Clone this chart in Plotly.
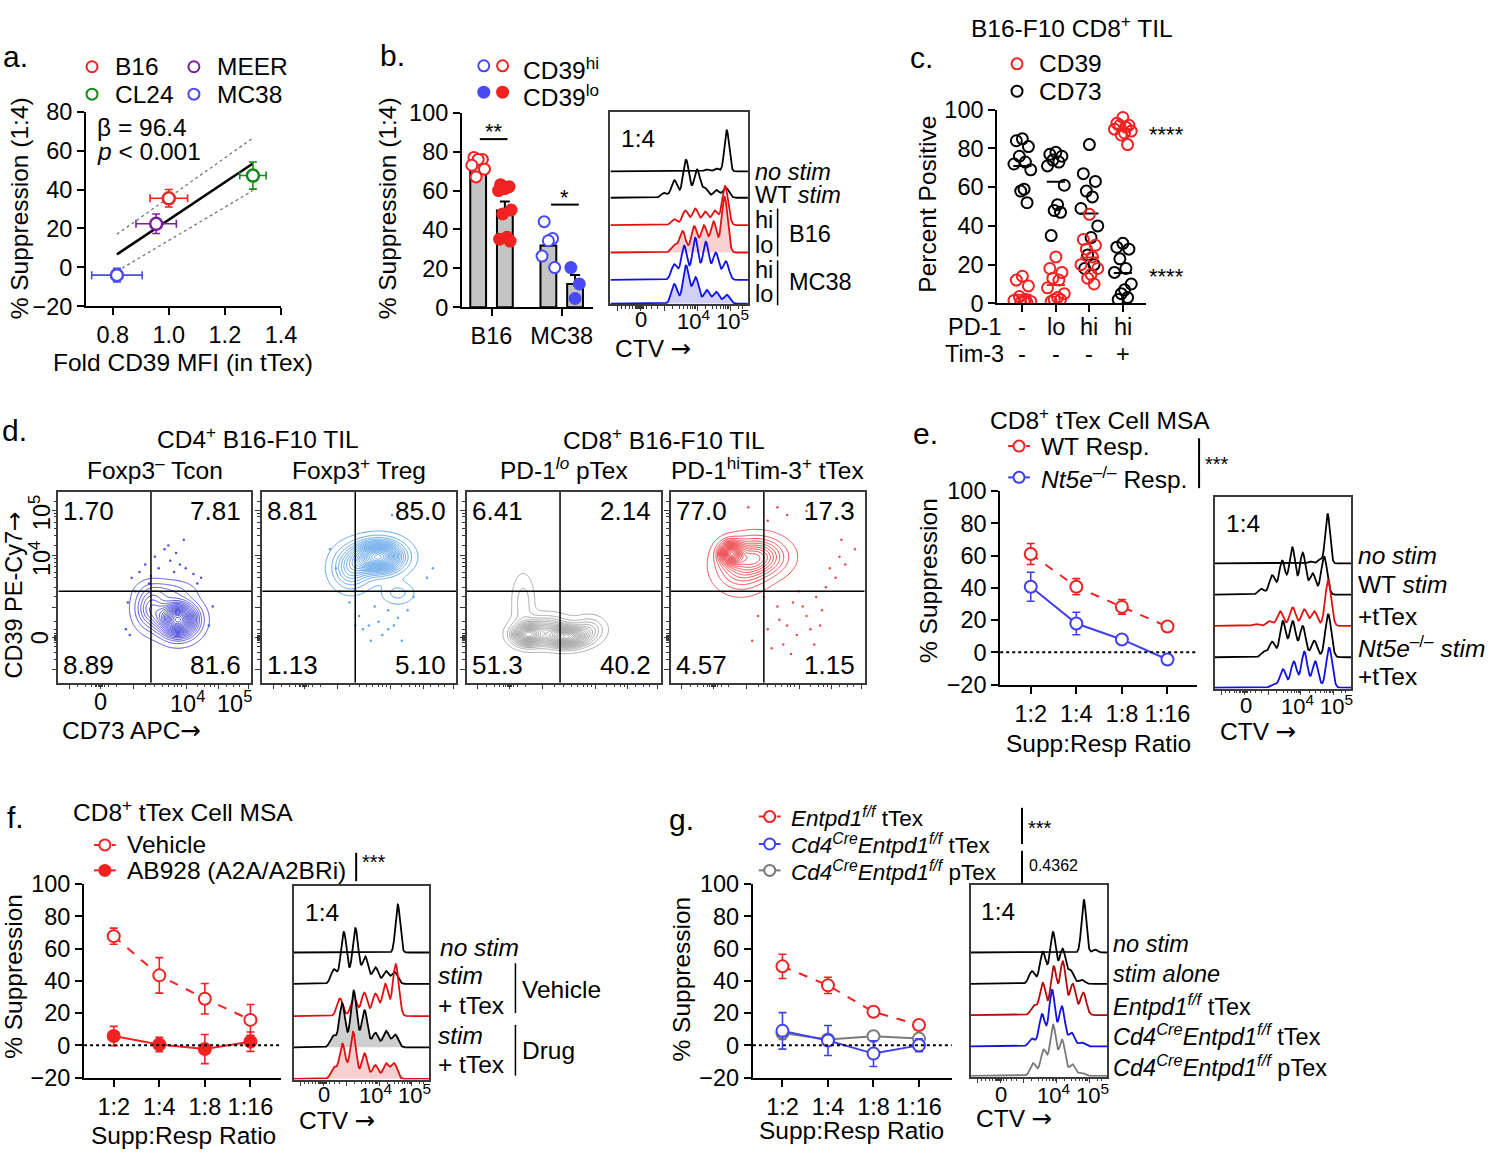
import numpy as np
import plotly.graph_objects as go

W, H = 1500, 1162
FONT = "Liberation Sans, Arial, Helvetica, sans-serif"
RED = "#f02222"
BLUE = "#3c3cf0"
GREEN = "#168a16"
PURPLE = "#7a1fa0"
GRAY = "#7a7a7a"
DRED = "#b40a0a"
FS = 24.5      # general text size
FT = 23.5      # tick label size
FL = 30        # panel letters
ARROW = '<span style="font-family:DejaVu Sans">→</span>'

# ======================= DATA =======================
# (a) suppression vs CD39 MFI
A_LINES = ["B16", "MEER", "CL24", "MC38"]
A_COLORS = [RED, PURPLE, GREEN, "#4a4af5"]
A_FOLD_MFI = [1.00, 0.955, 1.30, 0.815]
A_FOLD_ERR = [0.067, 0.072, 0.047, 0.090]
A_SUPP = [35.5, 22.4, 47.2, -4.0]
A_SUPP_ERR = [4.5, 5.0, 7.0, 3.5]
A_REG_BETA = 96.4
A_REG_INTERCEPT = -71.9
A_REG_X = [0.815, 1.30]
A_CI_UPPER = [17.0, 66.5]
A_CI_LOWER = [-2.0, 39.5]

# (b) CD39hi vs CD39lo suppression
B_GROUPS = ["B16", "MC38"]
B_HI_MEAN = [73.2, 31.8]
B_HI_SEM = [1.5, 4.0]
B_LO_MEAN = [49.7, 12.0]
B_LO_SEM = [4.7, 4.6]
B16_HI_PTS = [77, 76, 76, 73, 71, 67]
B16_LO_PTS = [63, 62, 61, 60, 50, 48, 36, 35, 34]
MC38_HI_PTS = [44, 35.3, 34.2, 26.3, 20.4]
MC38_LO_PTS = [20.4, 12, 4.5]

# (c) percent positive
C_PD1 = ["-", "lo", "hi", "hi"]
C_TIM3 = ["-", "-", "-", "+"]
C_CD73 = [
    [85, 84, 81, 76, 73, 72, 69, 59, 58, 52],
    [78, 77, 76, 74, 73, 71, 61, 51, 48, 47, 35],
    [82, 67, 63, 58, 55, 49, 40, 34, 25, 20, 18],
    [31, 29, 28, 23, 18, 16, 10, 7, 5, 3, 2],
]
C_CD39 = [
    [14, 12, 9, 3.5, 2, 1.5, 1, 0.8, 0.5, 0.3],
    [24, 18, 16, 13, 12, 8, 5, 3, 2, 2, 1],
    [46, 33, 30, 28, 24, 20, 18, 15, 13, 10],
    [96, 93, 92, 92, 91, 90, 89, 88, 87, 82],
]

# (d) flow quadrants  [UL, UR, LL, LR]
D_TITLES = ["Foxp3<sup>–</sup> Tcon", "Foxp3<sup>+</sup> Treg",
            "PD-1<sup><i>lo</i></sup> pTex", "PD-1<sup>hi</sup>Tim-3<sup>+</sup> tTex"]
D_QUAD = [["1.70", "7.81", "8.89", "81.6"],
          ["8.81", "85.0", "1.13", "5.10"],
          ["6.41", "2.14", "51.3", "40.2"],
          ["77.0", "17.3", "4.57", "1.15"]]
D_COLORS = ["#5252dc", "#5da3ea", "#a9a9a9", "#ec4a4e"]
# density blobs: [cx, cy, sx, sy, weight]  (display units 0-100)
D1_BLOBS = [[62, 33, 6.0, 5.5, 1.0], [48, 39, 5.0, 6.5, 0.30], [57, 48, 8.0, 3.5, 0.10]]
D2_BLOBS = [[60, 66, 7.5, 5.0, 1.0], [46, 60, 6.0, 6.5, 0.30], [70, 47, 5.0, 3.5, 0.10]]
D3_BLOBS = [[31, 25, 4.5, 3.2, 0.8], [52, 24, 6.0, 3.2, 1.0], [40, 27, 8.0, 4.5, 0.45],
            [29, 42, 3.5, 9.0, 0.12], [63, 28, 5.0, 4.0, 0.2]]
D4_BLOBS = [[31, 68, 3.5, 3.5, 1.0], [44, 66, 9.0, 6.0, 0.55], [36, 59, 8.0, 7.0, 0.25]]
D1_DOTS = [[38, 55], [42, 58], [45, 62], [50, 66], [52, 60], [55, 70], [58, 64], [60, 58],
           [63, 62], [66, 60], [70, 57], [74, 55], [47, 52], [65, 75], [40, 48], [36, 42],
           [80, 40], [78, 30], [35, 28], [37, 25], [72, 52], [57, 72], [48, 56], [61, 68]]
D2_DOTS = [[50, 35], [55, 30], [60, 32], [65, 28], [70, 34], [75, 38], [58, 40], [62, 25],
           [68, 30], [45, 42], [40, 48], [52, 28], [78, 45], [85, 55], [38, 60], [72, 22],
           [48, 30], [65, 38], [56, 22], [88, 60], [67, 88], [35, 70]]
D4_DOTS = [[45, 35], [50, 28], [55, 40], [60, 30], [65, 25], [70, 35], [75, 45], [80, 50],
           [85, 55], [58, 20], [62, 15], [48, 45], [52, 18], [68, 40], [72, 28], [78, 38],
           [82, 60], [87, 66], [90, 62], [42, 22], [66, 48], [74, 20], [56, 33], [63, 42],
           [95, 70], [88, 75], [50, 85], [55, 92], [60, 88], [70, 90], [40, 92], [77, 30]]

# (e), (f), (g) suppression curves
RATIOS = ["1:2", "1:4", "1:8", "1:16"]
E_WT = [61.0, 40.7, 28.2, 16.0]
E_WT_ERR = [6.5, 5.0, 4.5, 3.0]
E_KO = [40.7, 17.9, 8.0, -4.4]
E_KO_ERR = [9.0, 7.0, 2.5, 3.0]
F_VEH = [67.7, 43.4, 28.9, 15.8]
F_VEH_ERR = [5.0, 11.0, 9.5, 9.5]
F_DRUG = [5.8, 0.5, -2.3, 2.3]
F_DRUG_ERR = [6.0, 4.5, 9.0, 6.0]
G_FF = [49.0, 37.2, 20.8, 12.6]
G_FF_ERR = [7.5, 5.0, 1.5, 1.5]
G_CRE_T = [9.0, 3.0, -5.1, 0.0]
G_CRE_T_ERR = [11.3, 9.3, 8.0, 4.0]
G_CRE_P = [7.7, 3.6, 5.7, 4.2]
G_CRE_P_ERR = [4.0, 2.0, 2.0, 2.0]

# CTV histograms: peak positions (display units 0-100) and peak heights (px)
HIST_TICK_LABELS = ["0", "10<sup>4</sup>", "10<sup>5</sup>"]
B_HIST_POS = [[70, 77, 84.6], [39, 46.5, 55, 63, 69, 77, 84],
              [46.5, 54.5, 61.7, 69, 76, 83.4], [46.5, 52.5, 61, 68, 75, 83],
              [46.5, 53.7, 61.7, 69.4, 76.6, 83.9], [46.5, 55, 62, 70, 77, 84.6]]
B_HIST_H = [[2, 3, 42], [5, 18, 39, 29, 10, 8, 10],
            [6, 15, 17, 14, 15, 40], [8, 22, 27, 28, 32, 57],
            [16, 35, 43, 39, 28, 19], [20, 39, 27, 14, 12, 9]]
E_HIST_POS = [[70, 76.9, 82.5], [34, 42, 49.3, 56.6, 64.3, 71.6, 80],
              [30, 40, 47.8, 57, 65.5, 72.8, 83], [36, 42, 49.8, 57, 64.3, 72.8, 83],
              [43, 49.8, 57.8, 65.5, 73.5, 83.7]]
E_HIST_H = [[2, 4, 51], [6, 20, 35, 49, 43, 22, 39],
            [2, 5, 15, 19, 17, 15, 47], [6, 16, 37, 37, 32, 17, 44],
            [4, 19, 27, 37, 27, 41]]
F_HIST_POS = [[76.7], [29.6, 36.9, 45.4, 52.7, 60.2, 68, 74.5],
              [34, 44.2, 52, 60.2, 67.5, 75.2], [29, 35.7, 44.2, 52.2, 60.2, 68, 74.8],
              [29.6, 35.9, 43.7, 52.2, 60.2, 68, 74]]
F_HIST_H = [[49], [15, 53, 57, 28, 17, 13, 12],
            [18, 19, 24, 23, 33, 53], [12, 45, 58, 38, 15, 17, 13],
            [12, 36, 48, 26, 14, 16, 16]]
G_HIST_POS = [[83, 91.3], [45, 53, 60.4, 67.4, 73.4, 81.4],
              [46.4, 52.9, 60.9, 67.6, 74.9, 82.6], [45, 52.4, 59.7, 66.9, 74, 81.4],
              [45.9, 53.6, 60.4, 67.1, 74.6, 81.4]]
G_HIST_H = [[54, 3], [13, 33, 53, 36, 14, 4],
            [10, 33, 50, 55, 32, 23], [8, 33, 58, 41, 14, 4],
            [13, 27, 53, 37, 12, 3]]

# ======================= FIGURE =======================
fig = go.Figure()
layout = dict(width=W, height=H, margin=dict(l=0, r=0, t=0, b=0),
              paper_bgcolor="white", plot_bgcolor="rgba(0,0,0,0)", showlegend=False,
              font=dict(family=FONT, size=FT, color="black"))
anns = []
shapes = []
OV = 15  # overlay pixel axes


def ref(i, k):
    return k if i == 1 else f"{k}{i}"


def axname(i, k):
    return f"{k}axis" if i == 1 else f"{k}axis{i}"


AX = dict(showline=True, linecolor="black", linewidth=2, ticks="outside", ticklen=7,
          tickwidth=2, tickcolor="black", showgrid=False, zeroline=False, fixedrange=True,
          tickangle=0, tickfont=dict(family=FONT, size=FT, color="black"))
BOX = dict(showline=True, mirror=True, linecolor="#3a3a3a", linewidth=1.5, showgrid=False,
           zeroline=False, fixedrange=True, ticks="outside", ticklen=5, tickwidth=1.2,
           tickangle=0, tickcolor="#3a3a3a", tickfont=dict(family=FONT, size=22, color="black"))


def axes(i, xpx, ypx, xr, yr, xo=None, yo=None, base=AX):
    xa = dict(base)
    xa.update(domain=[xpx[0] / W, xpx[1] / W], range=xr, anchor=ref(i, "y"))
    ya = dict(base)
    ya.update(domain=[1 - ypx[1] / H, 1 - ypx[0] / H], range=yr, anchor=ref(i, "x"))
    if xo:
        xa.update(xo)
    if yo:
        ya.update(yo)
    layout[axname(i, "x")] = xa
    layout[axname(i, "y")] = ya


def T(x, y, text, size=FS, xanchor="left", angle=0, xref=None, yref=None, color="black"):
    anns.append(dict(x=x, y=y, xref=xref or ref(OV, "x"), yref=yref or ref(OV, "y"),
                     text=text, showarrow=False, xanchor=xanchor, yanchor="middle",
                     textangle=angle, font=dict(family=FONT, size=size, color=color)))


def L(x0, y0, x1, y1, color="black", width=1.5, dash=None):
    shapes.append(dict(type="line", xref=ref(OV, "x"), yref=ref(OV, "y"), x0=x0, y0=y0,
                       x1=x1, y1=y1, line=dict(color=color, width=width, dash=dash)))


def add(tr, i):
    tr.update(xaxis=ref(i, "x"), yaxis=ref(i, "y"), showlegend=False, hoverinfo="skip")
    fig.add_trace(tr)


def legend_mark(x, y, color, filled=False, line=None):
    if line is not None:
        add(go.Scatter(x=[x - 11, x + 11], y=[y, y], mode="lines",
                       line=dict(color=color, width=2, dash=line)), OV)
    add(go.Scatter(x=[x], y=[y], mode="markers",
                   marker=dict(symbol="circle", size=11, color=color if filled else "white",
                               line=dict(color=color, width=2))), OV)


# ---------------- (a) ----------------
axes(1, (87, 284), (101, 300), [0.705, 1.4], [-20, 80],
     xo=dict(tickvals=[0.8, 1.0, 1.2, 1.4], tickformat=".1f"),
     yo=dict(tickvals=list(range(-20, 81, 20))))
rx = np.array(A_REG_X)
add(go.Scatter(x=rx, y=A_REG_BETA * rx + A_REG_INTERCEPT, mode="lines",
               line=dict(color="black", width=2.5)), 1)
for ci in (A_CI_UPPER, A_CI_LOWER):
    add(go.Scatter(x=rx, y=ci, mode="lines", line=dict(color="#777", width=1.3, dash="dot")), 1)
for k in range(len(A_LINES)):
    add(go.Scatter(x=[A_FOLD_MFI[k]], y=[A_SUPP[k]], mode="markers",
                   marker=dict(symbol="circle", size=12, color="white",
                               line=dict(color=A_COLORS[k], width=2.5)),
                   error_x=dict(type="data", array=[A_FOLD_ERR[k]], color=A_COLORS[k],
                                thickness=1.6, width=4),
                   error_y=dict(type="data", array=[A_SUPP_ERR[k]], color=A_COLORS[k],
                                thickness=1.6, width=4)), 1)
T(1, 44, "a.", FL)
leg_pos = [(93, 55), (196, 55), (93, 83), (196, 83)]
for k, (lx, ly) in enumerate(leg_pos):
    legend_mark(lx, ly, A_COLORS[k])
    T(lx + 21, ly, A_LINES[k])
T(96, 117, "β = 96.4")
T(96, 142, "<i>p</i> &lt; 0.001")
T(20, 200, "% Suppression (1:4)", FS, "center", -90)
T(185, 358, "Fold CD39 MFI (in tTex)", FS, "center")

# ---------------- (b) bars ----------------
axes(2, (467, 599), (102, 301), [-0.42, 1.44], [0, 100],
     xo=dict(tickvals=list(range(len(B_GROUPS))), ticktext=B_GROUPS),
     yo=dict(tickvals=list(range(0, 101, 20))))
gx = np.arange(len(B_GROUPS))
OFF = 0.19
add(go.Bar(x=gx - OFF, y=B_HI_MEAN, width=0.225,
           marker=dict(color="#c4c4c4", line=dict(color="black", width=2)),
           error_y=dict(type="data", array=B_HI_SEM, arrayminus=[0] * len(B_GROUPS),
                        symmetric=False, color="black", thickness=2, width=5)), 2)
add(go.Bar(x=gx + OFF, y=B_LO_MEAN, width=0.225,
           marker=dict(color="#c4c4c4", line=dict(color="black", width=2)),
           error_y=dict(type="data", array=B_LO_SEM, arrayminus=[0] * len(B_GROUPS),
                        symmetric=False, color="black", thickness=2, width=5)), 2)
JB = [-0.06, 0.06, 0.0, -0.09, 0.09, -0.03, 0.03, -0.075, 0.075]
for g, pts, col, filled, side in [(0, B16_HI_PTS, RED, False, -1), (0, B16_LO_PTS, RED, True, 1),
                                  (1, MC38_HI_PTS, "#4a4af5", False, -1),
                                  (1, MC38_LO_PTS, "#4a4af5", True, 1)]:
    xs = [g + side * OFF + JB[j % len(JB)] for j in range(len(pts))]
    add(go.Scatter(x=xs, y=pts, mode="markers",
                   marker=dict(symbol="circle", size=11, color=col if filled else "white",
                               line=dict(color=col, width=2))), 2)
layout["barmode"] = "overlay"
T(382, 43, "b.", FL)
legend_mark(489, 54, "#4a4af5")
legend_mark(508, 54, RED)
legend_mark(489, 81, "#4a4af5", True)
legend_mark(508, 81, RED, True)
T(527, 57, "CD39<sup>hi</sup>")
T(527, 84, "CD39<sup>lo</sup>")
T(392, 200, "% Suppression (1:4)", FS, "center", -90)
L(485, 129, 513, 129, width=2)
T(499, 121, "**", 22, "center")
L(557, 196, 585, 196, width=2)
T(571, 189, "*", 22, "center")


# ---------------- histogram helper ----------------
def peaks_curve(pos, hts, sig):
    xg = np.linspace(0, 100, 601)
    p = np.array(pos, float)
    h = np.array(hts, float)
    G = np.exp(-(p[:, None] - p[None, :]) ** 2 / (2 * sig ** 2))
    amp = np.clip(np.linalg.solve(G, h), 0, None)
    y = (amp[:, None] * np.exp(-(xg[None, :] - p[:, None]) ** 2 / (2 * sig ** 2))).sum(0)
    return xg, y


def hist_panel(i, xpx, ypx, pos_list, h_list, baselines, colors, fills, label_y, ctv_y):
    axes(i, xpx, ypx, [0, 100], [0, ypx[1] - ypx[0]],
         xo=dict(tickvals=[5, 22, 39, 63, 87], showticklabels=False,
                 minor=dict(tickvals=[8, 11, 14, 16, 18, 19, 20, 20.5, 21, 21.5, 22.5, 23,
                                      24, 26, 30, 34, 45, 50, 53, 56, 58, 60, 61, 62, 69,
                                      74, 77, 80, 82, 84, 85, 86, 93, 96],
                            ticklen=3, tickcolor="#3a3a3a", ticks="outside")),
         yo=dict(showticklabels=False, ticks=""), base=BOX)
    for k in range(len(pos_list)):
        sig = 1.7 if k == 0 else 2.2
        xg, y = peaks_curve(pos_list[k], h_list[k], sig)
        yb = baselines[k] + y
        if fills[k]:
            add(go.Scatter(x=np.r_[0, xg, 100], y=np.r_[baselines[k], yb, baselines[k]],
                           mode="lines", fill="toself", fillcolor=fills[k],
                           line=dict(color=colors[k], width=1.8)), i)
        else:
            add(go.Scatter(x=xg, y=yb, mode="lines", line=dict(color=colors[k], width=1.8)), i)
    for xv, txt in zip([22.5, 60.5, 89], HIST_TICK_LABELS):
        T(xv, label_y, txt, 22, "center", xref=ref(i, "x"))
    T(xpx[0] + 3, ctv_y, "CTV " + ARROW)
    T(xpx[0] + 9, ypx[0] + 27, "1:4")


# ---------------- (b) histogram ----------------
hist_panel(3, (617, 756), (101, 298), B_HIST_POS, B_HIST_H, [136, 109, 81, 53, 25, 0.8],
           ["black", "black", "#e01010", "#e01010", "#1010e8", "#1010e8"],
           [None, None, None, "rgba(235,120,120,0.35)", None, "rgba(120,120,235,0.35)"],
           314, 343)
FH = 23.5
T(761, 163, "<i>no stim</i>", FH)
T(761, 186, "WT <i>stim</i>", FH)
T(761, 212, "hi", FH)
T(761, 237, "lo", FH)
T(761, 263, "hi", FH)
T(761, 287, "lo", FH)
L(786, 200, 786, 249)
L(786, 253, 786, 299)
T(795, 226, "B16", FH)
T(795, 275, "MC38", FH)

# ---------------- (c) ----------------
axes(4, (1008, 1158), (99, 297), [-0.75, 3.68], [0, 100],
     xo=dict(tickvals=[0, 1, 2, 3], showticklabels=False),
     yo=dict(tickvals=list(range(0, 101, 20))))
JC = [0.0, -0.18, 0.18, -0.09, 0.09, -0.25, 0.25, 0.05, -0.05, 0.14, -0.14]
for vals, col in [(C_CD73, "black"), (C_CD39, RED)]:
    for g, pts in enumerate(vals):
        xs = [g + JC[j % len(JC)] for j in range(len(pts))]
        add(go.Scatter(x=xs, y=pts, mode="markers",
                       marker=dict(symbol="circle-open", size=11, color=col,
                                   line=dict(color=col, width=2))), 4)
        m = float(np.mean(pts))
        add(go.Scatter(x=[g - 0.27, g + 0.27], y=[m, m], mode="lines",
                       line=dict(color=col, width=2)), 4)
T(1084, 14, "B16-F10 CD8<sup>+</sup> TIL", FS, "center")
T(918, 46, "c.", FL)
legend_mark(1028, 52, RED)
legend_mark(1028, 80, "black")
T(1048, 52, "CD39")
T(1048, 80, "CD73")
T(938, 195, "Percent Positive", FS, "center", -90)
T(956, 321, "PD-1", 23.5)
T(953, 349, "Tim-3", 23.5)
for g in range(len(C_PD1)):
    T(g, 321, C_PD1[g], 23.5, "center", xref="x4")
    T(g, 349, C_TIM3[g], 23.5, "center", xref="x4")
T(1159, 124, "****", 22)
T(1159, 270, "****", 22)

# ---------------- (d) flow contours ----------------
DX = dict(BOX)
D_BOX_X = [(59, 254), (265, 461), (472, 668), (678, 874)]
blobs_all = [D1_BLOBS, D2_BLOBS, D3_BLOBS, D4_BLOBS]
dots_all = [D1_DOTS, D2_DOTS, None, D4_DOTS]
grid = np.linspace(0, 100, 201)
GX, GY = np.meshgrid(grid, grid)
for p in range(4):
    i = 5 + p
    axes(i, D_BOX_X[p], (490, 685), [0, 100], [0, 100],
         xo=dict(tickvals=[5.6, 22, 39, 66.2, 83, 98.5], showticklabels=False,
                 minor=dict(tickvals=[10, 14, 17, 19, 20, 21, 21.5, 22.5, 23, 24, 26, 30,
                                      45, 50, 54, 57, 60, 62, 64, 72, 76, 79, 81, 87, 91, 94],
                            ticklen=3, ticks="outside", tickcolor="#3a3a3a")),
         yo=dict(tickvals=[6.7, 23.6, 39.5, 66.7, 90.3], showticklabels=False,
                 minor=dict(tickvals=[12, 16, 19, 21, 22, 22.5, 23, 24.2, 25, 26, 28, 32,
                                      45, 50, 55, 58, 61, 63, 65, 72, 77, 81, 84, 87, 89, 95],
                            ticklen=3, ticks="outside", tickcolor="#3a3a3a")),
         base=DX)
    z = np.zeros_like(GX)
    for cx, cy, sx, sy, w in blobs_all[p]:
        z += w * np.exp(-((GX - cx) ** 2 / (2 * sx ** 2) + (GY - cy) ** 2 / (2 * sy ** 2)))
    z = z / z.max()
    col = D_COLORS[p]
    if dots_all[p]:
        dd = np.array(dots_all[p], float)
        add(go.Scatter(x=dd[:, 0], y=dd[:, 1], mode="markers",
                       marker=dict(size=2.5, color=col)), i)
    add(go.Contour(x=grid, y=grid, z=z, showscale=False,
                   contours=dict(coloring="lines", start=0.025, end=0.975, size=0.05),
                   line=dict(width=1), colorscale=[[0, col], [1, col]]), i)
    shapes.append(dict(type="line", xref=ref(i, "x"), yref=ref(i, "y"), x0=48, x1=48,
                       y0=0, y1=100, line=dict(color="black", width=1.5)))
    shapes.append(dict(type="line", xref=ref(i, "x"), yref=ref(i, "y"), x0=0, x1=100,
                       y0=48, y1=48, line=dict(color="black", width=1.5)))
    x0, x1 = D_BOX_X[p]
    q = D_QUAD[p]
    T(x0 + 3, 509, q[0], 26)
    T(x1 - 8, 509, q[1], 26, "right")
    T(x0 + 3, 667, q[2], 26)
    T(x1 - 8, 667, q[3], 26, "right")
    T((x0 + x1) / 2, 466, D_TITLES[p], FS, "center")
T(0, 427, "d.", FL)
T(261, 434, "CD4<sup>+</sup> B16-F10 TIL", FS, "center")
T(671, 435, "CD8<sup>+</sup> B16-F10 TIL", FS, "center")
T(14, 595, "CD39 PE-Cy7" + ARROW, 23.5, "center", -90)
T(40, 511, "10<sup>5</sup>", FT, "center", -90)
T(40, 558, "10<sup>4</sup>", FT, "center", -90)
T(40, 639, "0", FT, "center", -90)
T(102, 705, "0", FT, "center")
T(190, 705, "10<sup>4</sup>", FT, "center")
T(237, 705, "10<sup>5</sup>", FT, "center")
T(61, 734, "CD73 APC" + ARROW)


# ---------------- line-chart helper ----------------
def ratio_axes(i, xpx, ypx, xr):
    axes(i, xpx, ypx, xr, [-20, 100],
         xo=dict(tickvals=list(range(len(RATIOS))), ticktext=RATIOS),
         yo=dict(tickvals=list(range(-20, 101, 20))))
    shapes.append(dict(type="line", xref=ref(i, "x") + " domain", yref=ref(i, "y"),
                       x0=0, x1=1, y0=0, y1=0, line=dict(color="black", width=2, dash="dot")))


def series(i, vals, errs, color, dash=None, filled=False):
    add(go.Scatter(x=list(range(len(vals))), y=vals, mode="lines+markers",
                   line=dict(color=color, width=2, dash=dash),
                   marker=dict(symbol="circle", size=12, color=color if filled else "white",
                               line=dict(color=color, width=2)),
                   error_y=dict(type="data", array=errs, color=color, thickness=1.6, width=4)), i)


# ---------------- (e) ----------------
ratio_axes(9, (1011, 1210), (489, 687), [-0.67, 3.65])
series(9, E_WT, E_WT_ERR, RED, "dash")
series(9, E_KO, E_KO_ERR, "#4040f2")
T(921, 430, "e.", FL)
T(999, 415, "CD8<sup>+</sup> tTex Cell MSA")
legend_mark(1030, 443, RED, line="dash")
legend_mark(1030, 475, "#4040f2", line="solid")
T(1050, 443, "WT Resp.")
T(1050, 475, "<i>Nt5e</i><sup>–/–</sup> Resp.")
L(1212, 435, 1212, 486, width=2)
T(1216, 461, "***", 20)
T(938, 580, "% Suppression", FS, "center", -90)
T(1110, 747, "Supp:Resp Ratio", FS, "center")

hist_panel(10, (1228, 1366), (495, 691), E_HIST_POS, E_HIST_H, [128, 96, 64, 32, 0.8],
           ["black", "black", "#e01010", "black", "#1010e8"], [None] * 5, 708, 735)
T(1371, 555, "<i>no stim</i>")
T(1371, 585, "WT <i>stim</i>")
T(1371, 617, "+tTex")
T(1371, 648, "<i>Nt5e</i><sup>–/–</sup> <i>stim</i>")
T(1371, 679, "+tTex")

# ---------------- (f) ----------------
ratio_axes(11, (85, 284), (891, 1089), [-0.65, 3.67])
series(11, F_VEH, F_VEH_ERR, RED, "dash")
series(11, F_DRUG, F_DRUG_ERR, RED, None, True)
T(5, 823, "f.", FL)
T(72, 816, "CD8<sup>+</sup> tTex Cell MSA")
legend_mark(106, 851, RED, line="dash")
legend_mark(106, 877, RED, filled=True, line="solid")
T(126, 851, "Vehicle")
T(126, 877, "AB928 (A2A/A2BRi)")
L(360, 859, 360, 888, width=2)
T(364, 868, "***", 20)
T(14, 985, "% Suppression", FS, "center", -90)
T(185, 1148, "Supp:Resp Ratio", FS, "center")

hist_panel(12, (297, 434), (893, 1091), F_HIST_POS, F_HIST_H, [130, 98, 65, 33, 0.8],
           ["black", "black", "#e01010", "black", "#e01010"],
           [None, None, None, "rgba(175,175,175,0.6)", "rgba(240,150,150,0.45)"], 1106, 1133)
T(443, 956, "<i>no stim</i>")
T(441, 985, "<i>stim</i>")
T(441, 1015, "+ tTex")
T(441, 1046, "<i>stim</i>")
T(441, 1076, "+ tTex")
L(521, 972, 521, 1023)
L(521, 1035, 521, 1087)
T(526, 999, "Vehicle")
T(526, 1061, "Drug")

# ---------------- (g) ----------------
ratio_axes(13, (761, 962), (891, 1089), [-0.65, 3.72])
series(13, G_FF, G_FF_ERR, RED, "dash")
series(13, G_CRE_P, G_CRE_P_ERR, GRAY)
series(13, G_CRE_T, G_CRE_T_ERR, "#4040f2")
T(674, 825, "g.", FL)
FG = 22.5
legend_mark(778, 822, RED, line="dash")
legend_mark(778, 850, "#4040f2", line="solid")
legend_mark(778, 877, GRAY, line="solid")
T(798, 822, "<i>Entpd1<sup>f/f</sup></i> tTex", FG)
T(798, 850, "<i>Cd4<sup>Cre</sup>Entpd1<sup>f/f</sup></i> tTex", FG)
T(798, 878, "<i>Cd4<sup>Cre</sup>Entpd1<sup>f/f</sup></i> pTex", FG)
L(1033, 813, 1033, 850, width=2)
T(1037, 834, "***", 20)
L(1033, 857, 1033, 891, width=2)
T(1038, 872, "0.4362", 16)
T(689, 988, "% Suppression", FS, "center", -90)
T(861, 1143, "Supp:Resp Ratio", FS, "center")

hist_panel(14, (981, 1119), (892, 1088), G_HIST_POS, G_HIST_H, [127, 95, 63, 31, 0.8],
           ["black", "black", DRED, "#1010e8", GRAY], [None] * 5, 1106, 1131)
T(1123, 952, "<i>no stim</i>", 23.5)
T(1123, 983, "<i>stim alone</i>", 23.5)
T(1123, 1015, "<i>Entpd1<sup>f/f</sup></i> tTex", 23.5)
T(1123, 1045, "<i>Cd4<sup>Cre</sup>Entpd1<sup>f/f</sup></i> tTex", 23.5)
T(1123, 1077, "<i>Cd4<sup>Cre</sup>Entpd1<sup>f/f</sup></i> pTex", 23.5)

# ---------------- overlay pixel axes ----------------
layout[axname(OV, "x")] = dict(domain=[0, 1], range=[0, W], visible=False, fixedrange=True,
                               anchor=ref(OV, "y"))
layout[axname(OV, "y")] = dict(domain=[0, 1], range=[H, 0], visible=False, fixedrange=True,
                               anchor=ref(OV, "x"))
layout["annotations"] = anns
layout["shapes"] = shapes
fig.update_layout(**layout)
# remove the default page margin synchronously (before the page is measured)
BODY_FIX = ("}); document.body.style.margin='0px'; document.body.style.overflow='hidden'; "
            "(function(){")
fig.write_html("out.html", config={"displayModeBar": False}, post_script=BODY_FIX)
